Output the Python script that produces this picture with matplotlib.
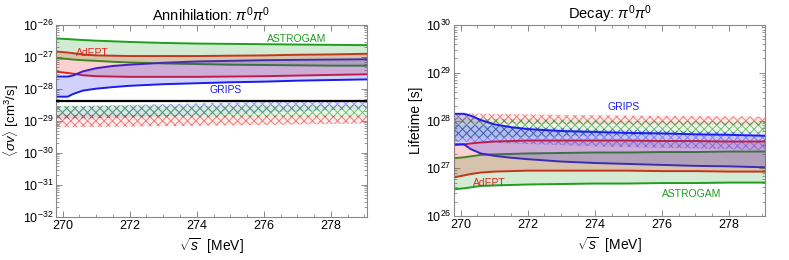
import numpy as np
import matplotlib
matplotlib.use("Agg")
import matplotlib.pyplot as plt
from matplotlib.ticker import LogLocator, AutoMinorLocator, NullFormatter, MultipleLocator

plt.rcParams['font.family'] = ['Liberation Sans', 'DejaVu Sans']
plt.rcParams['mathtext.fontset'] = 'custom'
plt.rcParams['mathtext.rm'] = 'Liberation Sans'
plt.rcParams['mathtext.it'] = 'Liberation Sans:italic'
plt.rcParams['mathtext.bf'] = 'Liberation Sans:bold'
plt.rcParams['hatch.linewidth'] = 0.7

# ---------------- data: annihilation (log10 <sigma v> [cm^3/s]) ----------------
x_ann = [269.8, 270.15, 270.3, 270.6, 271.0, 271.5, 272.0, 273.0, 274.0, 275.0, 276.0, 277.0, 278.0, 279.07]
astrogam_ann_hi = [-26.42, -26.44, -26.45, -26.47, -26.49, -26.51, -26.53, -26.56, -26.58, -26.59, -26.60, -26.61, -26.62, -26.63]
astrogam_ann_lo = [-27.04, -27.06, -27.08, -27.10, -27.12, -27.15, -27.17, -27.20, -27.22, -27.24, -27.25, -27.26, -27.27, -27.27]
adept_ann_hi = [-26.83, -26.86, -26.88, -26.92, -26.95, -26.96, -26.97, -26.97, -26.97, -26.96, -26.95, -26.93, -26.92, -26.90]
adept_ann_lo = [-27.46, -27.50, -27.52, -27.57, -27.60, -27.61, -27.62, -27.62, -27.62, -27.61, -27.60, -27.58, -27.56, -27.54]
grips_ann_hi = [-27.61, -27.61, -27.58, -27.45, -27.35, -27.28, -27.24, -27.18, -27.14, -27.12, -27.10, -27.09, -27.08, -27.07]
grips_ann_lo = [-28.24, -28.24, -28.16, -28.05, -27.99, -27.94, -27.90, -27.85, -27.82, -27.79, -27.77, -27.74, -27.72, -27.70]
black_ann = -28.375

xb_ann = [269.8, 274.0, 279.07]
grips_hatch_ann_hi = [-28.55, -28.45, -28.33]
grips_hatch_ann_lo = [-28.95, -28.82, -28.62]
astro_hatch_ann_hi = [-28.53, -28.52, -28.50]
astro_hatch_ann_lo = [-28.90, -28.88, -28.87]
adept_hatch_ann_hi = [-28.80, -28.82, -28.84]
adept_hatch_ann_lo = [-29.20, -29.15, -29.08]

# ---------------- data: decay (log10 lifetime [s]) ----------------
x_dec = [269.8, 270.1, 270.3, 270.6, 271.0, 271.5, 272.0, 273.0, 274.0, 275.0, 276.0, 277.0, 278.0, 279.08]
grips_dec_hi = [28.14, 28.14, 28.10, 28.01, 27.92, 27.86, 27.82, 27.78, 27.76, 27.74, 27.73, 27.71, 27.70, 27.68]
grips_dec_lo = [27.50, 27.50, 27.40, 27.31, 27.26, 27.22, 27.19, 27.14, 27.11, 27.09, 27.07, 27.05, 27.04, 27.02]
adept_dec_hi = [27.49, 27.50, 27.52, 27.54, 27.56, 27.57, 27.58, 27.58, 27.58, 27.58, 27.57, 27.57, 27.56, 27.56]
adept_dec_lo = [26.81, 26.85, 26.88, 26.91, 26.93, 26.94, 26.95, 26.95, 26.95, 26.95, 26.94, 26.94, 26.93, 26.93]
astrogam_dec_hi = [27.21, 27.23, 27.25, 27.28, 27.29, 27.30, 27.31, 27.32, 27.33, 27.33, 27.34, 27.34, 27.35, 27.35]
astrogam_dec_lo = [26.56, 26.58, 26.60, 26.63, 26.64, 26.65, 26.66, 26.67, 26.68, 26.68, 26.69, 26.69, 26.70, 26.70]

xb_dec = [269.8, 274.0, 279.08]
adept_hatch_dec_hi = [28.15, 28.11, 28.08]
adept_hatch_dec_lo = [27.94, 27.92, 27.90]
astro_hatch_dec_hi = [28.05, 28.00, 27.97]
astro_hatch_dec_lo = [27.63, 27.68, 27.73]
grips_hatch_dec_hi = [27.91, 27.82, 27.74]
grips_hatch_dec_lo = [27.56, 27.46, 27.38]

GREEN = '#1f9e1f'
RED = '#e8201c'
BLUE = '#1c1cf0'

def p10(v):
    return 10 ** np.asarray(v, dtype=float)

fig = plt.figure(figsize=(7.89, 2.60), dpi=100)
axL = fig.add_axes([56/789, 1-217/260, 311/789, 192/260])
axR = fig.add_axes([454/789, 1-216/260, 311/789, 191/260])

def band(ax, x, hi, lo, color, alpha=0.2):
    ax.plot(x, p10(hi), color=color, lw=1.4, zorder=2)
    ax.plot(x, p10(lo), color=color, lw=1.4, zorder=2)
    ax.fill_between(x, p10(lo), p10(hi), color=color, alpha=alpha, lw=0, zorder=3)

def hatchband(ax, x, hi, lo, color, ha=0.5):
    rgb = matplotlib.colors.to_rgb(color)
    ax.fill_between(x, p10(lo), p10(hi), facecolor=rgb + (0.08,), edgecolor=rgb + (ha,),
                    hatch='xxxx', lw=0, zorder=1)

# left panel
band(axL, x_ann, astrogam_ann_hi, astrogam_ann_lo, GREEN)
band(axL, x_ann, adept_ann_hi, adept_ann_lo, RED)
band(axL, x_ann, grips_ann_hi, grips_ann_lo, BLUE)
hatchband(axL, xb_ann, grips_hatch_ann_hi, grips_hatch_ann_lo, BLUE, 0.4)
hatchband(axL, xb_ann, astro_hatch_ann_hi, astro_hatch_ann_lo, GREEN, 0.6)
hatchband(axL, xb_ann, adept_hatch_ann_hi, adept_hatch_ann_lo, RED, 0.55)
axL.axhline(10 ** black_ann, color='black', lw=1.6, zorder=4)
axL.set_yscale('log')
axL.set_ylim(1e-32, 1e-26)
axL.set_title(r'Annihilation: $\pi^0\pi^0$', fontsize=10.5, pad=3)
axL.set_ylabel(r'$\langle\sigma v\rangle$ [cm$^3$/s]', fontsize=9.5, labelpad=1)
axL.text(276.1, 10 ** -26.44, 'ASTROGAM', color=GREEN, fontsize=7.5, va='center', ha='left')
axL.text(270.4, 10 ** -26.86, 'AdEPT', color=RED, fontsize=7.5, va='center', ha='left')
axL.text(274.85, 10 ** -28.03, 'GRIPS', color=BLUE, fontsize=7.5, va='center', ha='center')

# right panel
band(axR, x_dec, astrogam_dec_hi, astrogam_dec_lo, GREEN)
band(axR, x_dec, adept_dec_hi, adept_dec_lo, RED)
band(axR, x_dec, grips_dec_hi, grips_dec_lo, BLUE)
hatchband(axR, xb_dec, adept_hatch_dec_hi, adept_hatch_dec_lo, RED, 0.55)
hatchband(axR, xb_dec, astro_hatch_dec_hi, astro_hatch_dec_lo, GREEN, 0.6)
hatchband(axR, xb_dec, grips_hatch_dec_hi, grips_hatch_dec_lo, BLUE, 0.4)
axR.set_yscale('log')
axR.set_ylim(1e26, 1e30)
axR.set_title(r'Decay: $\pi^0\pi^0$', fontsize=10.5, pad=3)
axR.set_ylabel('Lifetime [s]', fontsize=10, labelpad=2)
axR.text(274.87, 10 ** 28.28, 'GRIPS', color=BLUE, fontsize=7.5, va='center', ha='center')
axR.text(270.37, 10 ** 26.70, 'AdEPT', color=RED, fontsize=7.5, va='center', ha='left')
axR.text(276.9, 10 ** 26.46, 'ASTROGAM', color=GREEN, fontsize=7.5, va='center', ha='center')

for ax in (axL, axR):
    ax.set_xlim(269.8, 279.08)
    ax.xaxis.set_major_locator(MultipleLocator(2))
    ax.xaxis.set_minor_locator(AutoMinorLocator(4))
    ax.yaxis.set_major_locator(LogLocator(base=10, numticks=20))
    ax.yaxis.set_minor_locator(LogLocator(base=10, subs=np.arange(2, 10), numticks=20))
    ax.yaxis.set_minor_formatter(NullFormatter())
    ax.tick_params(which='both', direction='in', top=True, right=True, color='#888888',
                   labelsize=9, pad=2)
    ax.tick_params(which='major', length=4, width=0.7)
    ax.tick_params(which='minor', length=2, width=0.6)
    for s in ax.spines.values():
        s.set_color('#888888')
        s.set_linewidth(0.8)
    ax.set_xlabel(r'$\sqrt{s}$  [MeV]', fontsize=10, labelpad=3)

fig.savefig('out.png', dpi=100)
